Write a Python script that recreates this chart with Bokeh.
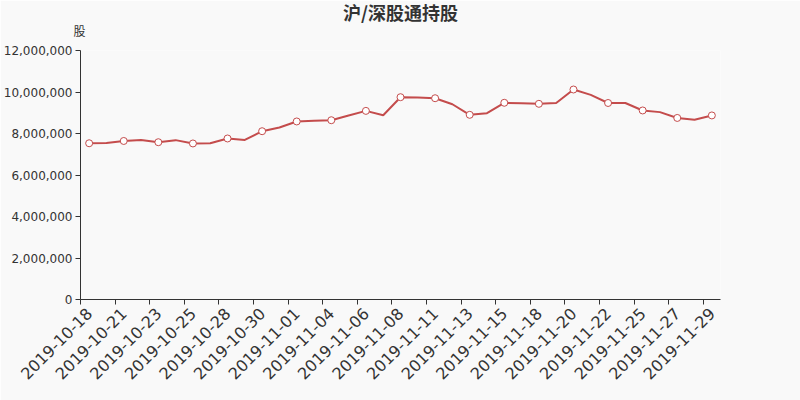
import math
from bokeh.plotting import figure
from bokeh.models import Range1d, FixedTicker, NumeralTickFormatter, Title
from bokeh.embed import file_html
from bokeh.resources import INLINE

title_text = "沪/深股通持股"
y_unit = "股"

dates = ["2019-10-18", "2019-10-19", "2019-10-21", "2019-10-22", "2019-10-23",
         "2019-10-24", "2019-10-25", "2019-10-26", "2019-10-28", "2019-10-29",
         "2019-10-30", "2019-10-31", "2019-11-01", "2019-11-02", "2019-11-04",
         "2019-11-05", "2019-11-06", "2019-11-07", "2019-11-08", "2019-11-09",
         "2019-11-11", "2019-11-12", "2019-11-13", "2019-11-14", "2019-11-15",
         "2019-11-16", "2019-11-18", "2019-11-19", "2019-11-20", "2019-11-21",
         "2019-11-22", "2019-11-23", "2019-11-25", "2019-11-26", "2019-11-27",
         "2019-11-28", "2019-11-29"]

holdings = [7530000, 7540000, 7640000, 7690000, 7580000, 7680000, 7520000,
            7530000, 7760000, 7690000, 8110000, 8290000, 8580000, 8610000,
            8640000, 8870000, 9090000, 8880000, 9750000, 9730000, 9700000,
            9410000, 8900000, 8980000, 9480000, 9460000, 9430000, 9470000,
            10120000, 9860000, 9470000, 9470000, 9110000, 9030000, 8750000,
            8660000, 8870000]

y_ticks = [0, 2000000, 4000000, 6000000, 8000000, 10000000, 12000000]

RED = "#c44c4c"
TXT = "#333333"
BG = "#f9f9f9"

idx = list(range(len(dates)))
shown = idx[::2]

p = figure(width=800, height=400, output_backend="svg", toolbar_location=None,
           x_range=Range1d(-0.5, len(dates) - 0.5),
           y_range=Range1d(y_ticks[0], y_ticks[-1]),
           min_border_left=80, min_border_right=80,
           min_border_top=50, min_border_bottom=101,
           background_fill_color=BG, border_fill_color=BG,
           outline_line_color=None)
p.grid.visible = False

p.line(idx, holdings, line_color=RED, line_width=2)
p.scatter([idx[i] for i in shown], [holdings[i] for i in shown], size=7,
          fill_color="white", line_color=RED, line_width=1)

xa = p.xaxis[0]
xa.ticker = FixedTicker(ticks=shown, minor_ticks=[i - 0.5 for i in shown])
xa.major_label_overrides = {i: dates[i] for i in shown}
xa.major_label_orientation = math.pi / 4
xa.major_label_text_font = "DejaVu Sans"
xa.major_label_text_font_size = "16px"
xa.major_label_text_color = TXT
xa.major_label_standoff = 6
xa.major_tick_out = 0
xa.major_tick_in = 0
xa.minor_tick_out = 5
xa.minor_tick_in = 0
xa.minor_tick_line_color = TXT
xa.axis_line_color = TXT

ya = p.yaxis[0]
ya.ticker = FixedTicker(ticks=y_ticks)
ya.formatter = NumeralTickFormatter(format="0,0")
ya.major_label_text_font = "DejaVu Sans"
ya.major_label_text_font_size = "12px"
ya.major_label_text_color = TXT
ya.major_label_standoff = 3
ya.major_tick_out = 5
ya.major_tick_in = 0
ya.minor_tick_out = 0
ya.minor_tick_in = 0
ya.major_tick_line_color = TXT
ya.axis_line_color = TXT

p.add_layout(Title(text=y_unit, align="left", offset=-7, vertical_align="top",
                   text_font="Noto Sans CJK SC", text_font_style="normal",
                   text_font_size="12px", text_color=TXT, standoff=20), "above")

p.title.text = title_text
p.title.align = "center"
p.title.vertical_align = "bottom"
p.title.standoff = -27.4
p.title.text_font = "Noto Sans CJK SC"
p.title.text_font_style = "bold"
p.title.text_font_size = "18px"
p.title.text_color = TXT

open("out.html", "w").write(file_html(p, INLINE))
